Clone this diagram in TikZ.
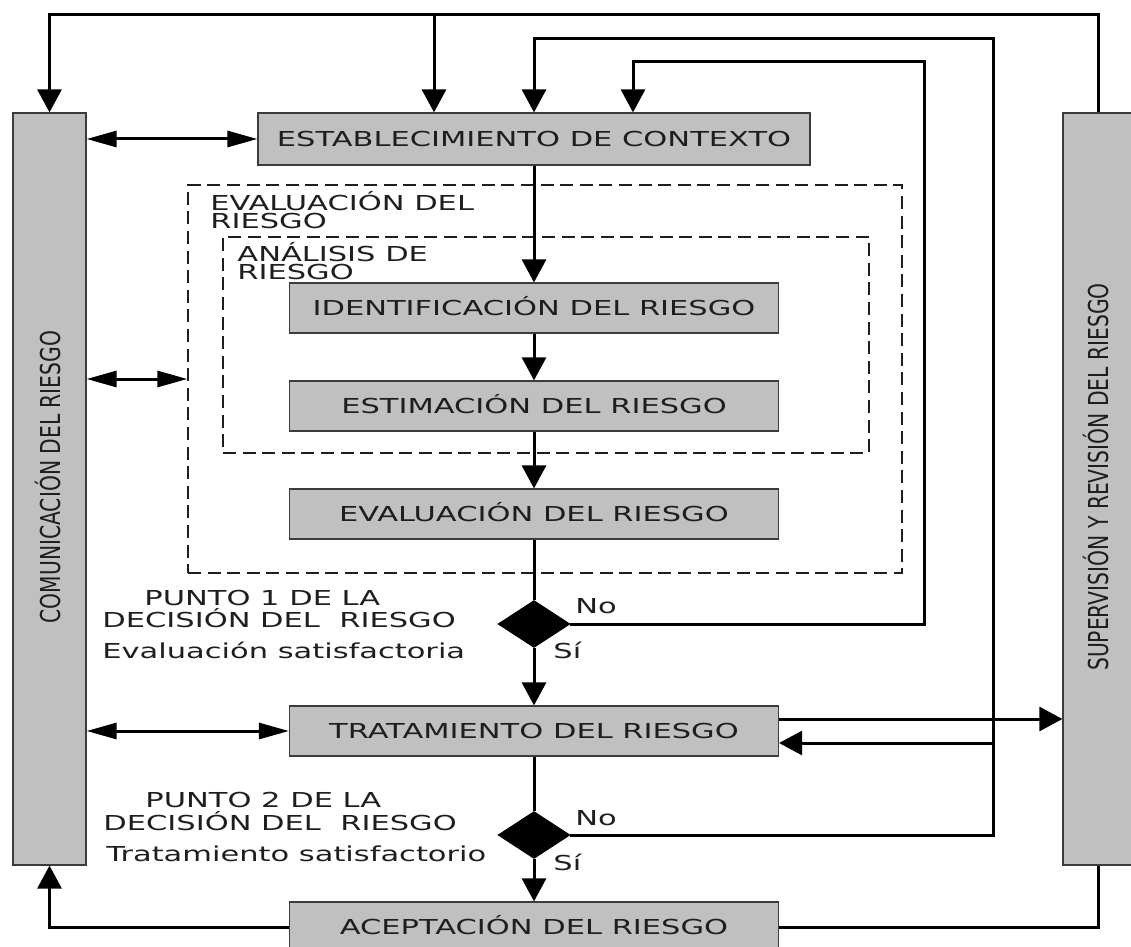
\documentclass[tikz,border=0pt]{standalone}
\usepackage{fontspec}
\setmainfont{DejaVu Sans}
\newfontfamily\wideface{DejaVu Sans}[FakeStretch=1.48]
\newfontfamily\narrowface{DejaVu Sans}[FakeStretch=0.74]
\usetikzlibrary{arrows.meta, shapes.geometric, positioning}
\definecolor{boxfill}{RGB}{192,192,192}
\definecolor{boxedge}{RGB}{60,60,60}
\definecolor{ink}{RGB}{30,30,30}

\tikzset{
  procbox/.style={rectangle, draw=boxedge, line width=0.6pt, fill=boxfill,
    minimum width=244.5pt, minimum height=25pt, inner sep=0pt,
    text height=7.5pt, text depth=0pt, text=ink,
    font=\wideface\fontsize{10.3}{12}\selectfont},
  sidebox/.style={rectangle, draw=boxedge, line width=0.6pt, fill=boxfill,
    minimum height=376pt, inner sep=0pt},
  sidetext/.style={rotate=90, inner sep=0pt, text height=10pt, text depth=0pt,
    text=ink, font=\narrowface\fontsize{13.7}{16}\selectfont},
  decision/.style={diamond, fill=black, draw=black, inner sep=0pt,
    minimum width=36pt, minimum height=23.5pt},
  riskframe/.style={rectangle, draw=ink, line width=0.7pt, dash pattern=on 6.5pt off 3.3pt},
  lbl/.style={anchor=base west, inner sep=0pt, text=ink,
    text height=7.5pt, text depth=0pt,
    font=\wideface\fontsize{10.3}{12}\selectfont},
  framelbl/.style={anchor=base west, inner sep=0pt, text=ink, align=left,
    font=\wideface\fontsize{10.3}{9}\selectfont},
  link/.style={line width=1.5pt},
  flow/.style={line width=1.5pt, -{Triangle[length=11.5pt,width=12pt]}},
  hflow/.style={line width=1.5pt,
    {Triangle[length=15pt,width=8pt]}-{Triangle[length=15pt,width=8pt]}}
}

\begin{document}
\begin{tikzpicture}[x=0.5pt, y=-0.5pt]
  \useasboundingbox (0,0) rectangle (1131,947);
  \clip (0,0) rectangle (1131,947);

  \node[sidebox, minimum width=36.5pt] (comm) at (49.5,489) {};
  \node[sidetext] (commtxt) at (51,477) {COMUNICACIÓN DEL RIESGO};
  \node[sidebox, minimum width=35pt] (superv) at (1098,489) {};
  \node[sidetext] (supervtxt) at (1098,477) {SUPERVISIÓN Y REVISIÓN DEL RIESGO};

  \node[riskframe, minimum width=357pt, minimum height=194pt] (evalframe) at (545,379) {};
  \node[riskframe, minimum width=323pt, minimum height=108pt] (anaframe) at (546,345) {};

  \node[procbox, minimum width=276pt, minimum height=26pt] (establ) at (534,139) {ESTABLECIMIENTO DE CONTEXTO};
  \foreach \n/\t/\y in {
    ident/IDENTIFICACIÓN DEL RIESGO/308,
    estim/ESTIMACIÓN DEL RIESGO/406,
    evalr/EVALUACIÓN DEL RIESGO/514,
    trat/TRATAMIENTO DEL RIESGO/731,
    acept/ACEPTACIÓN DEL RIESGO/927%
  }{
    \node[procbox] (\n) at (534,\y) {\t};
  }

  \node[decision] (dec1) at (534,624) {};
  \node[decision] (dec2) at (534,835) {};

  \node[framelbl] (evallbl) at (210,228) {EVALUACIÓN DEL\\RIESGO};
  \node[framelbl] (analbl) at (237,279) {ANÁLISIS DE\\RIESGO};
  \node[lbl] (pt1a) at (144,605) {PUNTO 1 DE LA};
  \node[lbl] (pt1b) at (102,627) {DECISIÓN DEL~~RIESGO};
  \node[lbl] (pt1c) at (102,658) {Evaluación satisfactoria};
  \node[lbl] (pt2a) at (145,807) {PUNTO 2 DE LA};
  \node[lbl] (pt2b) at (103,830) {DECISIÓN DEL~~RIESGO};
  \node[lbl] (pt2c) at (106,861) {Tratamiento satisfactorio};
  \node[lbl] (no1) at (575,613) {No};
  \node[lbl] (si1) at (553,658) {Sí};
  \node[lbl] (no2) at (575,825) {No};
  \node[lbl] (si2) at (553,870) {Sí};

  % main flow
  \draw[flow] (establ) -- (ident);
  \draw[flow] (ident) -- (estim);
  \draw[flow] (estim) -- (evalr);
  \draw[link] (evalr) -- (dec1);
  \draw[flow] (dec1) -- (trat);
  \draw[link] (trat) -- (dec2);
  \draw[flow] (dec2) -- (acept);

  % loops back
  \coordinate (loopA) at (434,15);
  \coordinate (backjoin) at (993,743);
  \draw[flow] (superv.north) -- (superv.north |- 0,15) -| (comm.north);
  \draw[flow] (loopA) -- (loopA |- establ.north);
  \draw[flow] (dec2.east) -| (993,39) -| (establ.north);
  \draw[flow] (backjoin) -- (backjoin -| trat.east);
  \draw[flow] (dec1.east) -| (924,62) -| ([xshift=49.5pt]establ.north);
  \draw[flow] ([yshift=6pt]trat.east) -- ([yshift=6pt]trat.east -| superv.west);
  \draw[link] (acept.east) -| (superv.south);
  \draw[flow] (acept.west) -| (comm.south);

  % communication
  \draw[hflow] (comm.east |- establ.west) -- (establ.west);
  \draw[hflow] (comm.east |- evalframe.west) -- (evalframe.west);
  \draw[hflow] (comm.east |- trat.west) -- (trat.west);
\end{tikzpicture}
\end{document}
